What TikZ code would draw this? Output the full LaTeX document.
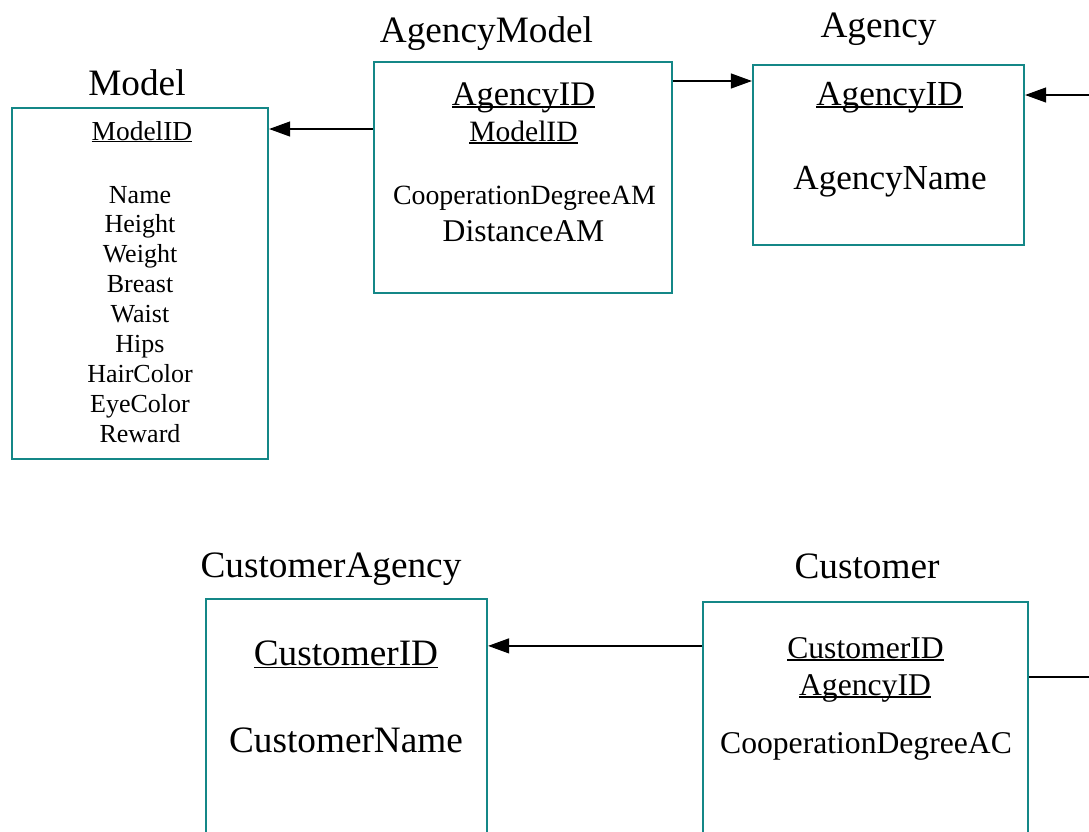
\documentclass[tikz,border=0pt]{standalone}
\usepackage{fontspec}
\setmainfont{Liberation Serif}
\usetikzlibrary{arrows.meta}

\definecolor{boxteal}{RGB}{20,135,135}
\newcommand{\keyul}[1]{\setbox0\hbox{#1}\rlap{\rule[-0.09em]{\wd0}{0.05em}}\box0}

\begin{document}
\begin{tikzpicture}[x=0.025cm, y=-0.025cm,
        tablebox/.style={draw=boxteal, line width=1.4pt, inner sep=0pt},
        tabtitle/.style={anchor=base, inner sep=0pt, font=\fontsize{26.5}{30}\selectfont},
        attr/.style={anchor=base, inner sep=0pt},
        fs/.style={font=\fontsize{#1}{#1}\selectfont},
        relarrow/.style={line width=1.4pt, -{Triangle[length=15pt, width=10.5pt]}}]
    \path[use as bounding box] (0,0) rectangle (1089,831);
    \clip (0,0) rectangle (1089,831);

    % tables
    \node[tablebox, minimum width=6.4cm, minimum height=8.775cm] (model) at (140,283.5) {};
    \node[tablebox, minimum width=7.45cm, minimum height=5.775cm] (agencymodel) at (523,177.5) {};
    \node[tablebox, minimum width=6.775cm, minimum height=4.5cm] (agency) at (888.5,155) {};
    \node[tablebox, minimum width=7.025cm, minimum height=7.525cm] (custagency) at (346.5,749.5) {};
    \node[tablebox, minimum width=8.125cm, minimum height=7.4375cm] (customer) at (865.5,751.25) {};

    % titles
    \node[tabtitle] (model-t) at (137,95) {Model};
    \node[tabtitle] (agencymodel-t) at (486.5,42) {AgencyModel};
    \node[tabtitle] (agency-t) at (878.5,37) {Agency};
    \node[tabtitle] (custagency-t) at (331,577) {CustomerAgency};
    \node[tabtitle] (customer-t) at (867,578) {Customer};

    % Model
    \node[attr, fs=19.5] (m-id) at (142,140) {\keyul{ModelID}};
    \foreach \a [count=\i] in {Name,Height,Weight,Breast,Waist,Hips,HairColor,EyeColor,Reward}
        \node[attr, fs=18.5] (m-\i) at (140,173.2+29.88*\i) {\a};

    % AgencyModel
    \node[attr, fs=24.5] (am-1) at (523.5,105) {\keyul{AgencyID}};
    \node[attr, fs=21] (am-2) at (523.5,141) {\keyul{ModelID}};
    \node[attr, fs=19.8] (am-3) at (524.5,204) {CooperationDegreeAM};
    \node[attr, fs=22.5] (am-4) at (523.5,241) {DistanceAM};

    % Agency
    \node[attr, fs=25] (a-1) at (889.5,105) {\keyul{AgencyID}};
    \node[attr, fs=25] (a-2) at (890,189) {AgencyName};

    % CustomerAgency
    \node[attr, fs=26.5] (ca-1) at (346,665) {\keyul{CustomerID}};
    \node[attr, fs=26.5] (ca-2) at (346,752) {CustomerName};

    % Customer
    \node[attr, fs=22.5] (c-1) at (865.5,658) {\keyul{CustomerID}};
    \node[attr, fs=22.5] (c-2) at (865,695) {\keyul{AgencyID}};
    \node[attr, fs=22.5] (c-3) at (866,753) {CooperationDegreeAC};

    % relations
    \path ([yshift=-1.7cm]agencymodel.north west) coordinate (amL);
    \path ([yshift=-0.5cm]agencymodel.north east) coordinate (amR);
    \path ([yshift=-1.11cm]customer.north west) coordinate (cuL);
    \coordinate (agencyIn) at (1089,95);
    \coordinate (customerOut) at (1089,677);

    \draw[relarrow] (amL) -- (amL -| model.east);
    \draw[relarrow] (amR) -- (amR -| agency.west);
    \draw[relarrow] (agencyIn) -- (agencyIn -| agency.east);
    \draw[relarrow] (cuL) -- (cuL -| custagency.east);
    \draw[line width=1.4pt] (customer.east |- customerOut) -- (customerOut);
\end{tikzpicture}
\end{document}
